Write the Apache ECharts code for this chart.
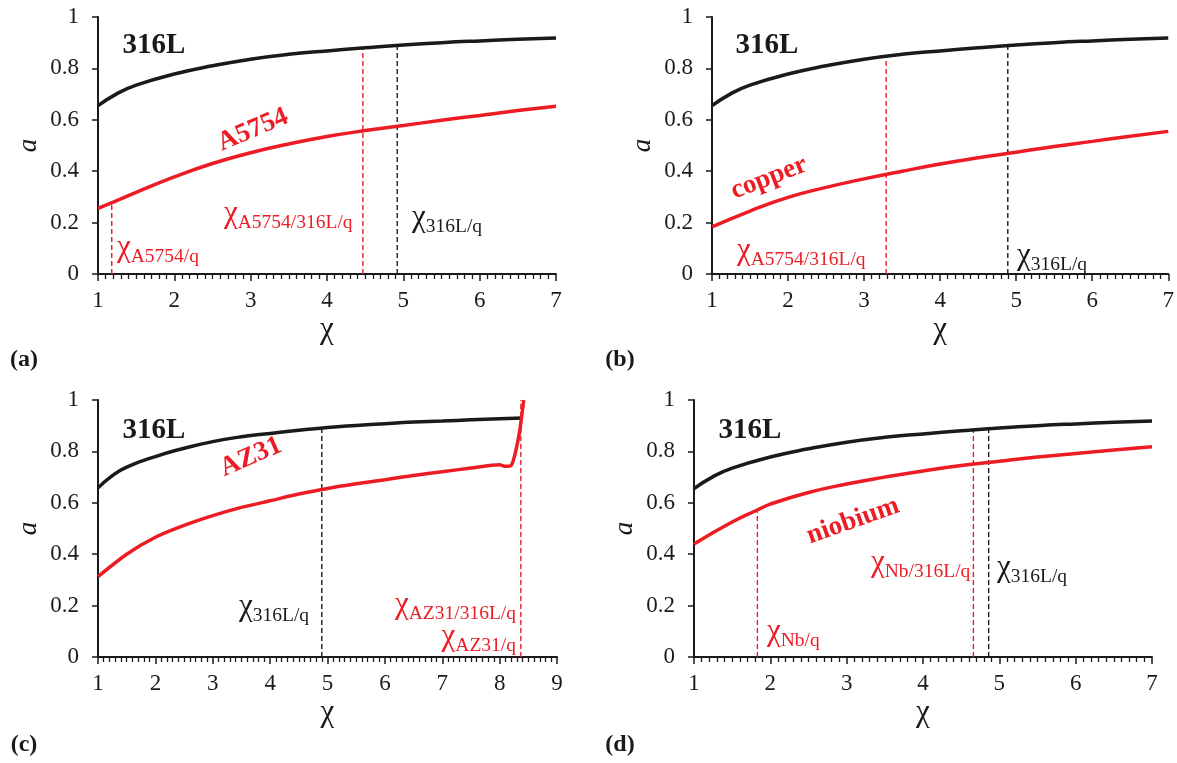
<!DOCTYPE html>
<html><head><meta charset="utf-8">
<script src="https://cdn.jsdelivr.net/npm/echarts@6/dist/echarts.min.js"></script>
<style>html,body{margin:0;padding:0;background:#fff}#c{width:1177px;height:763px}</style>
</head><body><div id="c"></div>
<script>
// ---------- data ----------
const chi316L = [1,1.25,1.5,2,2.5,3,3.5,4,4.5,5,5.5,6,6.5,7];
const a316L   = [0.655,0.702,0.735,0.778,0.810,0.836,0.855,0.868,0.880,0.891,0.900,0.907,0.913,0.918];
const chi316Lc = [1,1.25,1.5,2,2.5,3,3.5,4,4.5,5,5.5,6,6.5,7,7.5,8,8.4];
const a316Lc   = [0.658,0.706,0.739,0.780,0.812,0.838,0.857,0.870,0.882,0.893,0.901,0.908,0.914,0.918,0.923,0.927,0.930];
const chiA5754 = [1,1.2,1.5,2,2.5,3,3.5,4,4.5,5,5.5,6,6.5,7];
const aA5754   = [0.255,0.280,0.318,0.378,0.430,0.472,0.506,0.535,0.558,0.578,0.598,0.617,0.636,0.653];
const chiCopper = [1,1.5,2,2.5,3,3.5,4,4.5,5,5.5,6,6.5,7];
const aCopper   = [0.183,0.245,0.298,0.337,0.370,0.400,0.428,0.452,0.474,0.496,0.516,0.536,0.555];
const chiAZ31 = [1,1.5,2,2.5,3,3.5,4,4.5,5,5.5,6,6.5,7,7.5,8,8.1,8.2,8.28,8.35,8.42];
const aAZ31   = [0.313,0.400,0.466,0.512,0.550,0.582,0.608,0.634,0.656,0.674,0.690,0.706,0.721,0.735,0.748,0.742,0.745,0.800,0.880,1.000];
const chiNb = [1,1.5,1.83,2,2.5,3,3.5,4,4.5,5,5.5,6,6.5,7];
const aNb   = [0.440,0.525,0.572,0.595,0.640,0.673,0.700,0.724,0.745,0.762,0.778,0.792,0.805,0.818];
// vertical markers: [chi, top a]
const markRedA = [[1.18,0.28],[4.47,0.885]];
const markBlackA = [[4.92,0.895]];
const markRedB = [[3.29,0.852]];
const markBlackB = [[4.89,0.892]];
const markRedC = [[8.37,1.0]];
const markBlackC = [[4.9,0.893]];
const markRedD = [[1.83,0.575],[4.66,0.888]];
const markBlackD = [[4.86,0.892]];
const xTicksMax = [7,7,9,7];
const yTicks = [0,0.2,0.4,0.6,0.8,1];

// ---------- styles ----------
const RED = '#ed1c24', BLK = '#1a1a1a', FONT = '"Liberation Serif","Times New Roman",serif';
const grids = [
  {left:98, top:17, width:458, height:257},
  {left:712, top:17, width:458, height:257},
  {left:98, top:400, width:459, height:257},
  {left:694, top:400, width:458, height:257}
];
const zip = (xs, ys) => xs.map((x,i)=>[x, ys[i]]);
const xAxes = grids.map((g,i)=>({
  type:'value', gridIndex:i, min:1, max:xTicksMax[i], interval:1,
  axisLine:{show:true, onZero:false, lineStyle:{color:BLK, width:2}},
  axisTick:{show:true, length:7, lineStyle:{color:BLK, width:1.5}},
  minorTick:{show:true, splitNumber:10, length:5, lineStyle:{color:BLK, width:1.3}},
  splitLine:{show:false},
  axisLabel:{fontFamily:FONT, fontSize:23, color:BLK, margin:15},
  name:'χ', nameLocation:'middle', nameGap:40,
  nameTextStyle:{fontFamily:FONT, fontSize:31, color:BLK}
}));
const yAxes = grids.map((g,i)=>({
  type:'value', gridIndex:i, min:yTicks[0], max:yTicks[yTicks.length-1], interval:0.2,
  axisLine:{show:true, lineStyle:{color:BLK, width:2}},
  axisTick:{show:true, length:6, lineStyle:{color:BLK, width:1.5}},
  splitLine:{show:false},
  axisLabel:{fontFamily:FONT, fontSize:23, color:BLK, margin:19},
  name:'a', nameLocation:'middle', nameGap:56, nameRotate:90,
  nameTextStyle:{fontFamily:FONT, fontSize:27, fontStyle:'italic', color:BLK}
}));
const series = [];
function curve(i, xs, ys, color, smooth){
  series.push({type:'line', xAxisIndex:i, yAxisIndex:i, data:zip(xs,ys), showSymbol:false,
    smooth:smooth, lineStyle:{color:color, width:3.5}, z:3});
}
function marks(i, arr, color){
  arr.forEach(m=>series.push({type:'line', xAxisIndex:i, yAxisIndex:i, data:[[m[0],0],[m[0],m[1]]],
    showSymbol:false, lineStyle:{color:color, width:1.4, type:[5,3]}, z:2}));
}
curve(0, chi316L, a316L, BLK, 0.5); curve(0, chiA5754, aA5754, RED, 0.5);
marks(0, markRedA, RED); marks(0, markBlackA, BLK);
curve(1, chi316L, a316L, BLK, 0.5); curve(1, chiCopper, aCopper, RED, 0.5);
marks(1, markRedB, RED); marks(1, markBlackB, BLK);
curve(2, chi316Lc, a316Lc, BLK, 0.5); curve(2, chiAZ31, aAZ31, RED, 0.25);
marks(2, markRedC, RED); marks(2, markBlackC, BLK);
curve(3, chi316L, a316L, BLK, 0.5); curve(3, chiNb, aNb, RED, 0.5);
marks(3, markRedD, RED); marks(3, markBlackD, BLK);

// ---------- annotations ----------
const g = [];
function bold(text, x, y, color, size, rot){
  g.push({type:'text', x:x, y:y, rotation:rot||0, z:10,
    style:{text:text, fill:color, font:'bold '+size+'px '+FONT, align:'center', verticalAlign:'middle'}});
}
function chiLabel(sub, x, y, color, align){
  g.push({type:'text', x:x, y:y, z:10,
    style:{text:'{c|χ}{s|'+sub+'}', fill:color, align:align||'left', verticalAlign:'middle',
      rich:{c:{fontFamily:FONT, fontSize:31, fill:color, verticalAlign:'bottom'},
            s:{fontFamily:FONT, fontSize:19.5, fill:color, verticalAlign:'bottom', padding:[0,0,-3,0]}}}});
}
bold('316L', 154, 46, BLK, 29); bold('A5754', 253, 130, RED, 27, 0.40);
chiLabel('A5754/316L/q', 224, 214, RED); chiLabel('316L/q', 412, 218, BLK); chiLabel('A5754/q', 117, 248, RED);
bold('316L', 767, 46, BLK, 29); bold('copper', 769, 178, RED, 27, 0.37);
chiLabel('A5754/316L/q', 737, 251, RED); chiLabel('316L/q', 1017, 256, BLK);
bold('316L', 154, 431, BLK, 29); bold('AZ31', 251, 457, RED, 27, 0.41);
chiLabel('316L/q', 239, 607, BLK); chiLabel('AZ31/316L/q', 516, 605, RED, 'right'); chiLabel('AZ31/q', 516, 637, RED, 'right');
bold('316L', 750, 431, BLK, 29); bold('niobium', 853, 521, RED, 27, 0.34);
chiLabel('Nb/316L/q', 871, 563, RED); chiLabel('316L/q', 997, 568, BLK); chiLabel('Nb/q', 767, 632, RED);
[['(a)',24,360],['(b)',620,360],['(c)',24,745],['(d)',620,745]].forEach(p=>bold(p[0],p[1],p[2],BLK,24));

const chart = echarts.init(document.getElementById('c'));
chart.setOption({animation:false, backgroundColor:'#fff', grid:grids, xAxis:xAxes, yAxis:yAxes, series:series, graphic:g});
</script></body></html>
